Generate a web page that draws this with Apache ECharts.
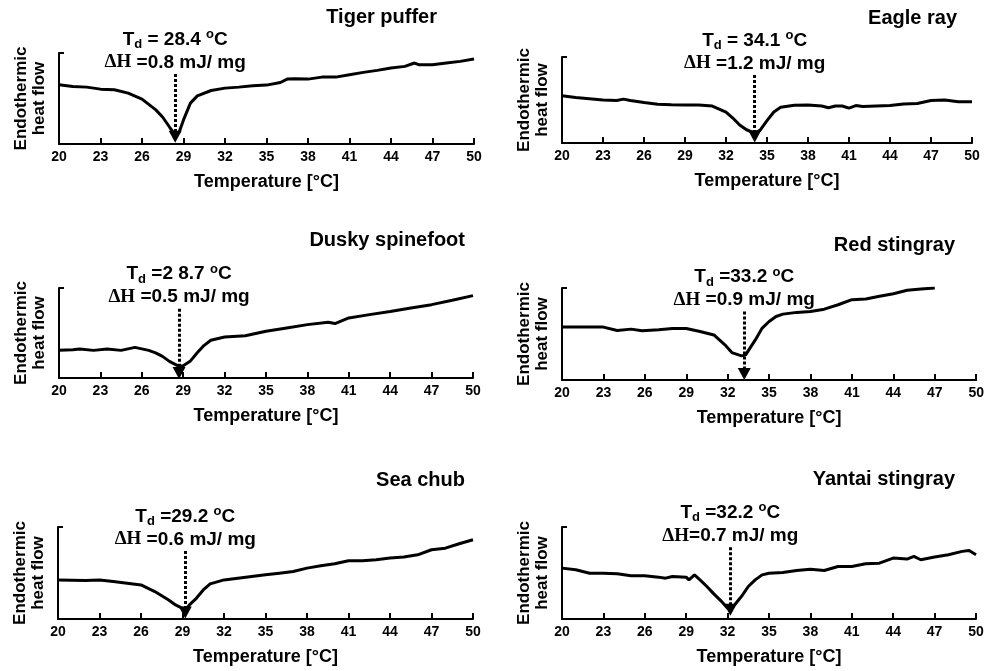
<!DOCTYPE html>
<html>
<head>
<meta charset="utf-8">
<script src="https://cdn.jsdelivr.net/npm/echarts@6/dist/echarts.min.js"></script>
<style>
  html, body { margin: 0; padding: 0; background: #fff; }
  #chart { width: 987px; height: 671px; }
</style>
</head>
<body>
<div id="chart"></div>
<script>
// species names (panel titles)
const species = ["Tiger puffer", "Eagle ray", "Dusky spinefoot", "Red stingray", "Sea chub", "Yantai stingray"]

// DSC traces (heat flow in arbitrary units 0-100)
const tigerTemp = [20, 21, 22, 23, 24, 25, 26, 27, 27.5, 28, 28.4, 28.7, 29, 29.5, 30, 31, 32, 33, 34, 35, 36, 36.5, 37, 38, 39, 40, 41, 42, 43, 44, 45, 45.7, 46, 47, 48, 49, 50]
const tigerFlow = [65.1, 63.2, 62.5, 60.3, 59.6, 55.9, 49.3, 37.5, 29.4, 18.4, 9.9, 13.6, 26.5, 44.9, 52.9, 58.8, 61.4, 62.5, 64, 64.7, 67.6, 71.3, 71.7, 71.3, 73.5, 73.5, 76.1, 78.7, 80.9, 83.5, 85.3, 89, 87.1, 87.1, 89, 90.8, 93.4]

const eagleTemp = [20, 21, 22, 23, 24, 24.5, 25, 26, 27, 28, 29, 30, 31, 32, 32.5, 33, 33.5, 34.1, 34.5, 35, 35.5, 36, 37, 38, 39, 39.5, 40, 40.5, 41, 41.5, 42, 43, 44, 45, 46, 47, 48, 49, 50]
const eagleFlow = [55, 53, 51.5, 50, 49.5, 51, 49.5, 47, 45, 44.5, 44.2, 44.2, 43, 36, 29, 21, 15.4, 11.5, 15, 26, 36, 41.5, 43.8, 44.2, 43, 41, 43, 43, 40.5, 43.5, 42.5, 43, 43.5, 45.4, 46, 49.5, 50, 48, 48]

const duskyTemp = [20, 21, 21.5, 22.5, 23.5, 24.5, 25.5, 26.5, 27, 27.5, 28, 28.7, 29, 29.5, 30, 30.5, 31, 32, 33.5, 35, 36.5, 38, 39.5, 40, 41, 42.5, 44, 45.5, 47, 48.5, 50]
const duskyFlow = [30.7, 31.5, 32.2, 30.7, 32.2, 30.7, 34, 30.7, 28, 24, 18.5, 13, 13.7, 18.5, 27.8, 36, 41.9, 45.6, 47, 51.9, 55.6, 59.3, 61.9, 60.5, 66.7, 70.4, 74, 77.8, 81.5, 86.3, 91.5]

const redTemp = [20, 21, 22, 23, 24, 25, 25.8, 27, 28, 29, 30, 31, 31.8, 32.3, 33, 33.3, 34, 34.5, 35, 35.5, 36, 37, 38, 39, 40, 41, 42, 43, 44, 45, 46, 47]
const redFlow = [57.5, 57.5, 57.5, 57.5, 53.8, 55.3, 53.5, 54.5, 56, 56, 52.7, 49, 38.2, 29.8, 26.2, 27.3, 43.6, 56.4, 63.6, 69, 71.6, 73.5, 74.5, 77, 81.8, 87.3, 88, 91, 93.8, 97.5, 99, 100]

const chubTemp = [20, 22, 23, 24, 25, 26, 27, 28, 28.5, 29, 29.2, 29.5, 30, 30.5, 31, 32, 33, 34, 35, 36, 37, 38, 39, 40, 41, 42, 43, 44, 45, 46, 47, 48, 49, 50]
const chubFlow = [42.5, 41.8, 42.5, 40.7, 38.9, 37, 29.8, 20.7, 15.3, 11.6, 9.8, 15.3, 22.5, 31.6, 38.2, 42.5, 44.4, 46.2, 48, 49.8, 51.6, 55.3, 57.8, 60, 63.3, 63.3, 64.4, 66.2, 67.3, 69.8, 75.3, 77, 81.8, 86.2]

const yantaiTemp = [20, 21, 22, 23, 24, 25, 26, 27, 27.5, 28, 29, 29.2, 29.6, 30, 30.5, 31, 31.5, 32, 32.2, 32.5, 33, 33.5, 34, 34.5, 35, 36, 37, 38, 39, 40, 41, 42, 43, 44, 45, 45.5, 46, 47, 48, 49, 49.5, 50]
const yantaiFlow = [55.3, 53.5, 49.8, 49.8, 49.1, 46.9, 46.9, 45.5, 44.4, 46.2, 45.5, 42.5, 48, 42.5, 35.3, 27.3, 20, 11.6, 9.8, 15.3, 24.4, 35.3, 42.5, 48, 49.8, 50.5, 52.7, 54.2, 52.7, 57.1, 57.1, 60, 60.7, 66.2, 65.1, 68, 64.4, 67.3, 69.8, 73.5, 74.5, 69.8]

const temps = [tigerTemp, eagleTemp, duskyTemp, redTemp, chubTemp, yantaiTemp]
const flows = [tigerFlow, eagleFlow, duskyFlow, redFlow, chubFlow, yantaiFlow]

// denaturation temperature (arrow position) and annotation text
const tdValues = [28.4, 34.1, 28.7, 33.2, 29.2, 32.2]
const tdText = [" = 28.4 ", " = 34.1 ", " =2 8.7 ", " =33.2 ", " =29.2 ", " =32.2 "]
const dhText = [" =0.8 mJ/ mg", " =1.2 mJ/ mg", " =0.5 mJ/ mg", " =0.9 mJ/ mg", " =0.6 mJ/ mg", "=0.7 mJ/ mg"]
// arrow: top of the dotted line and the arrow head, in heat flow units
const arrowTop = [77, 79, 77, 74.5, 74, 78]
const arrowHead = [8, 7.7, 5.5, 6.5, 7, 10]

const font = "'Liberation Sans', Arial, sans-serif"

const grids = [
  { left: 59, top: 53, width: 415, height: 91 },
  { left: 562, top: 57, width: 410, height: 86 },
  { left: 59, top: 288, width: 414, height: 90 },
  { left: 562, top: 288, width: 415, height: 92 },
  { left: 58, top: 527, width: 415, height: 92 },
  { left: 562, top: 527, width: 414, height: 92 }
]
const titlePos = [
  { right: 550, top: 7 },
  { right: 30, top: 8 },
  { right: 522, top: 230 },
  { right: 32, top: 235 },
  { right: 522, top: 470 },
  { right: 32, top: 469 }
]

const myChart = echarts.init(document.getElementById("chart"))

const option = {
  backgroundColor: "#fff",
  animation: false,
  title: species.map((s, i) => ({
    text: s,
    right: titlePos[i].right,
    top: titlePos[i].top,
    padding: 0,
    textStyle: { fontFamily: font, fontSize: 20, fontWeight: "bold", color: "#000" }
  })),
  grid: grids,
  xAxis: grids.map((g, i) => ({
    type: "value",
    gridIndex: i,
    min: 20,
    max: 50,
    interval: 3,
    name: "Temperature [°C]",
    nameLocation: "middle",
    nameGap: 29,
    nameTextStyle: { fontFamily: font, fontSize: 18, fontWeight: "bold", color: "#000" },
    axisLine: { show: true, lineStyle: { color: "#000", width: 2 } },
    axisTick: { show: true, inside: true, length: 6, lineStyle: { color: "#000", width: 2 } },
    axisLabel: {
      fontFamily: font, fontSize: 14, fontWeight: "bold", color: "#000", margin: 6,
      showMinLabel: true, showMaxLabel: true
    },
    splitLine: { show: false }
  })),
  yAxis: grids.map((g, i) => ({
    type: "value",
    gridIndex: i,
    min: 0,
    max: 100,
    interval: 100,
    name: "Endothermic\nheat flow",
    nameLocation: "middle",
    nameGap: 11,
    nameTextStyle: { fontFamily: font, fontSize: 17, fontWeight: "bold", color: "#000", lineHeight: 18 },
    axisLine: { show: true, lineStyle: { color: "#000", width: 2 } },
    axisTick: { show: true, inside: true, length: 5, lineStyle: { color: "#000", width: 2 } },
    axisLabel: { show: false },
    splitLine: { show: false }
  })),
  series: temps.map((t, i) => ({
    type: "line",
    xAxisIndex: i,
    yAxisIndex: i,
    showSymbol: false,
    lineStyle: { color: "#000", width: 3 },
    data: t.map((v, j) => [v, flows[i][j]]),
    markLine: {
      silent: true,
      symbol: ["none", "triangle"],
      symbolSize: [13, 12],
      lineStyle: { color: "#000", type: [3, 2], width: 3 },
      itemStyle: { color: "#000" },
      label: {
        show: true,
        position: "start",
        distance: 0,
        color: "#000",
        formatter: "{t|T}{d|d}{n|" + tdText[i] + "}{o|o}{n|C}\n{h|ΔH}{n|" + dhText[i] + "}",
        rich: {
          t: { fontFamily: font, fontSize: 19, fontWeight: "bold", color: "#000", lineHeight: 23 },
          d: { fontFamily: font, fontSize: 13, fontWeight: "bold", color: "#000", lineHeight: 23, verticalAlign: "bottom" },
          n: { fontFamily: font, fontSize: 19, fontWeight: "bold", color: "#000", lineHeight: 23 },
          o: { fontFamily: font, fontSize: 13, fontWeight: "bold", color: "#000", lineHeight: 23, verticalAlign: "top" },
          h: { fontFamily: "'Liberation Serif', 'Times New Roman', serif", fontSize: 19, fontWeight: "bold", color: "#000", lineHeight: 23 }
        }
      },
      data: [[{ coord: [tdValues[i], arrowTop[i]] }, { coord: [tdValues[i], arrowHead[i]] }]]
    }
  }))
}
myChart.setOption(option, true)
</script>
</body>
</html>
